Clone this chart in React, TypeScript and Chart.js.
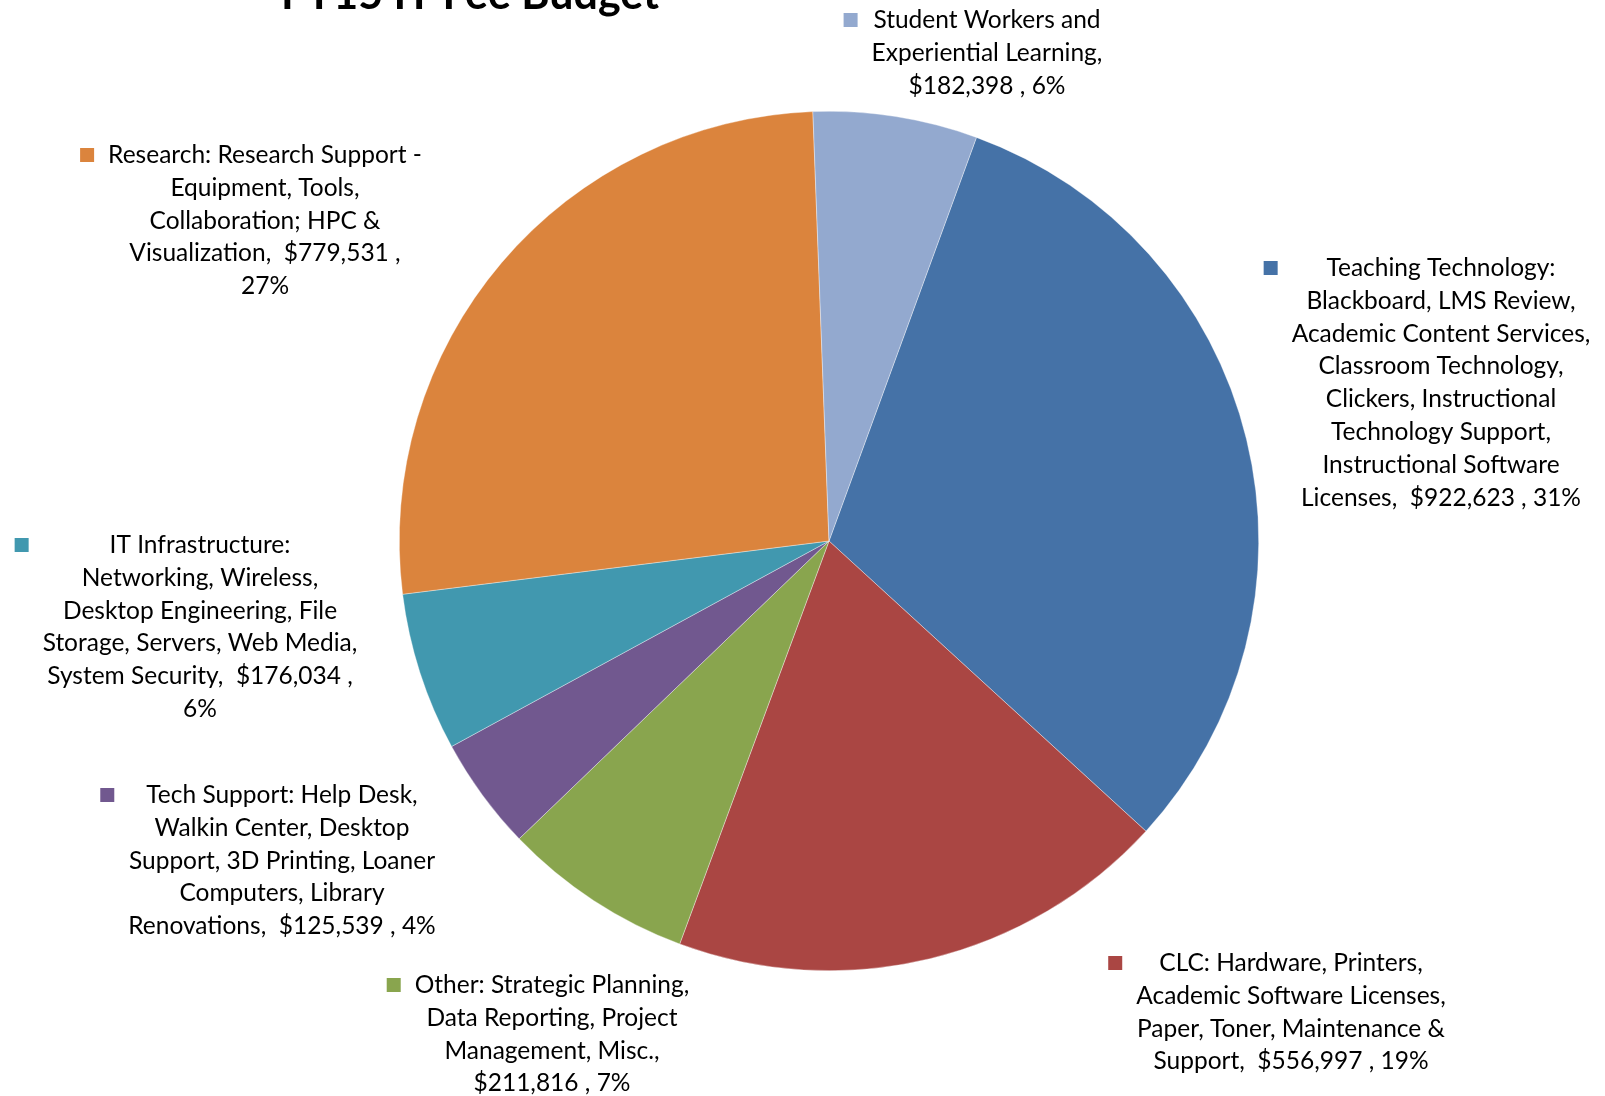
import React, { useEffect, useRef } from "react";
import { Chart, registerables } from "chart.js";

Chart.register(...registerables);

const titleText = "FY15 IT Fee Budget";

const categories = [
  "Teaching Technology",
  "CLC",
  "Other",
  "Tech Support",
  "IT Infrastructure",
  "Research",
  "Student Workers and Experiential Learning",
];

const values = [922623, 556997, 211816, 125539, 176034, 779531, 182398];

const sliceColors = [
  "#4572A7",
  "#AA4643",
  "#89A54E",
  "#71588F",
  "#4198AF",
  "#DB843D",
  "#93A9CF",
];

const labelLines: string[][] = [
  [
    "Teaching Technology:",
    "Blackboard, LMS Review,",
    "Academic Content Services,",
    "Classroom Technology,",
    "Clickers, Instructional",
    "Technology Support,",
    "Instructional Software",
    "Licenses,  $922,623 , 31%",
  ],
  [
    "CLC: Hardware, Printers,",
    "Academic Software Licenses,",
    "Paper, Toner, Maintenance &",
    "Support,  $556,997 , 19%",
  ],
  [
    "Other: Strategic Planning,",
    "Data Reporting, Project",
    "Management, Misc.,",
    "$211,816 , 7%",
  ],
  [
    "Tech Support: Help Desk,",
    "Walkin Center, Desktop",
    "Support, 3D Printing, Loaner",
    "Computers, Library",
    "Renovations,  $125,539 , 4%",
  ],
  [
    "IT Infrastructure:",
    "Networking, Wireless,",
    "Desktop Engineering, File",
    "Storage, Servers, Web Media,",
    "System Security,  $176,034 ,",
    "6%",
  ],
  [
    "Research: Research Support -",
    "Equipment, Tools,",
    "Collaboration; HPC &",
    "Visualization,  $779,531 ,",
    "27%",
  ],
  ["Student Workers and", "Experiential Learning,", "$182,398 , 6%"],
];

// layout: label block center x and first-line baseline y (canvas px)
const labelAnchors: [number, number][] = [
  [1441, 276],
  [1291, 971],
  [552, 993],
  [282, 803],
  [200, 553],
  [265, 163],
  [987, 28],
];

const FONT_FAMILY = "Lato, 'Open Sans', sans-serif";
const LABEL_FONT_SIZE = 24.5;
const LINE_HEIGHT = 32.8;
const KEY_SIZE = 14;
const KEY_GAP = 14;

const labelPlugin = {
  id: "pieLabels",
  afterDraw(chart: any) {
    const ctx: CanvasRenderingContext2D = chart.ctx;
    ctx.save();
    // title (mostly cut off at the top)
    ctx.fillStyle = "#000";
    ctx.font = `bold 43px ${FONT_FAMILY}`;
    ctx.textAlign = "center";
    ctx.textBaseline = "alphabetic";
    ctx.fillText(titleText, 470, 9);

    ctx.font = `${LABEL_FONT_SIZE}px ${FONT_FAMILY}`;
    labelLines.forEach((lines, i) => {
      const [cx, by] = labelAnchors[i];
      let maxW = 0;
      lines.forEach((l) => {
        maxW = Math.max(maxW, ctx.measureText(l).width);
      });
      ctx.fillStyle = "#000";
      ctx.textAlign = "center";
      lines.forEach((l, j) => {
        ctx.fillText(l, cx, by + j * LINE_HEIGHT);
      });
      const capH = 16;
      const keyX = cx - maxW / 2 - KEY_GAP - KEY_SIZE;
      const keyY = by - capH / 2 - KEY_SIZE / 2;
      ctx.fillStyle = sliceColors[i];
      ctx.fillRect(keyX, keyY, KEY_SIZE, KEY_SIZE);
    });
    ctx.restore();
  },
};

export default function App() {
  const canvasRef = useRef<HTMLCanvasElement | null>(null);

  useEffect(() => {
    document.body.style.margin = "0";
    const canvas = canvasRef.current;
    if (!canvas) return;
    const chart = new Chart(canvas, {
      type: "pie",
      data: {
        labels: categories,
        datasets: [
          {
            data: values,
            backgroundColor: sliceColors,
            borderColor: "rgba(255,255,255,0.6)",
            borderWidth: 0.6,
          },
        ],
      },
      options: {
        responsive: false,
        animation: false,
        rotation: 20.07,
        layout: {
          padding: { left: 399, right: 346, top: 111, bottom: 125 },
        },
        plugins: {
          legend: { display: false },
          tooltip: { enabled: false },
          title: { display: false },
        },
      },
      plugins: [labelPlugin],
    });
    return () => chart.destroy();
  }, []);

  return (
    <div style={{ width: 1605, height: 1096, background: "#fff" }}>
      <canvas
        ref={canvasRef}
        width={1605}
        height={1096}
        style={{ display: "block", width: 1605, height: 1096 }}
      />
    </div>
  );
}
